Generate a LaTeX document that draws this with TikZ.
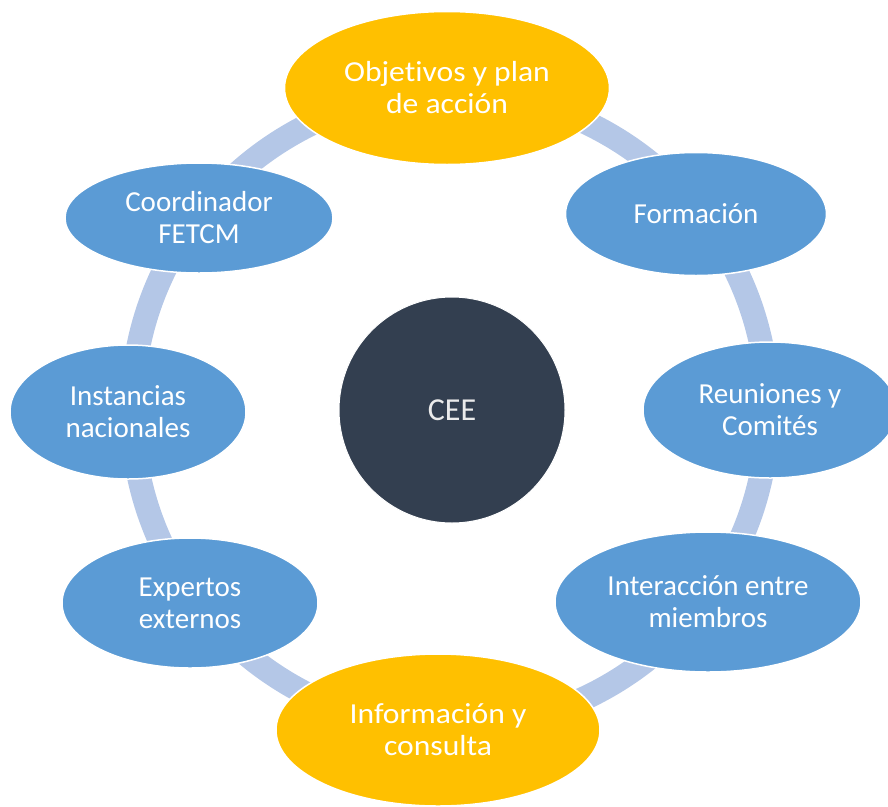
\documentclass[tikz,border=0pt]{standalone}
\usepackage{fontspec}
\setmainfont{Carlito}[Ligatures=NoCommon]
\newfontfamily\widefont{Carlito}[Ligatures=NoCommon, FakeStretch=1.09]
\usetikzlibrary{shapes.geometric}
\definecolor{ringblue}{HTML}{B4C7E7}
\definecolor{nodeblue}{HTML}{5B9BD5}
\definecolor{nodegold}{HTML}{FFC000}
\definecolor{hubdark}{HTML}{333F50}
\tikzset{
  ring/.style={draw=ringblue, line width=24pt},
  bubble/.style={ellipse, draw=white, line width=1.5pt, fill=nodeblue,
    text=white, align=center, inner sep=0pt,
    font=\fontsize{29}{32}\selectfont},
  goldbubble/.style={bubble, fill=nodegold,
    font=\widefont\fontsize{29}{32}\selectfont},
  hub/.style={circle, fill=hubdark, draw=white, line width=1pt,
    minimum size=226pt, inner sep=0pt, text=white!92!black,
    font=\fontsize{32}{36}\selectfont}
}
\begin{document}
\begin{tikzpicture}[x=1pt, y=-1pt]
\useasboundingbox (0,0) rectangle (888,806);
% central hub
\node[hub] (cee) at (452,410) {CEE};
% light blue ring linking the surrounding bubbles
\draw[ring] (450,410) circle[radius=318pt];
% surrounding bubbles
\node[goldbubble, minimum width=325pt, minimum height=153pt] (obj) at (447,88) {Objetivos y plan\\de acción};
\node[bubble, minimum width=261pt, minimum height=123pt] (form) at (696,214) {Formación};
\node[bubble, minimum width=254pt, minimum height=136pt] (reun) at (770,410) {Reuniones y\\Comités};
\node[bubble, minimum width=306pt, minimum height=140pt] (inter) at (708,602) {Interacción entre\\miembros};
\node[goldbubble, minimum width=324pt, minimum height=152pt] (info) at (438,730) {Información y\\consulta};
\node[bubble, minimum width=256pt, minimum height=130pt] (exp) at (190,603) {Expertos\\externos};
\node[bubble, minimum width=236pt, minimum height=134pt] (inst) at (128,412) {Instancias\\nacionales};
\node[bubble, minimum width=268pt, minimum height=110pt] (coord) at (199,218) {Coordinador\\FETCM};
\end{tikzpicture}
\end{document}
